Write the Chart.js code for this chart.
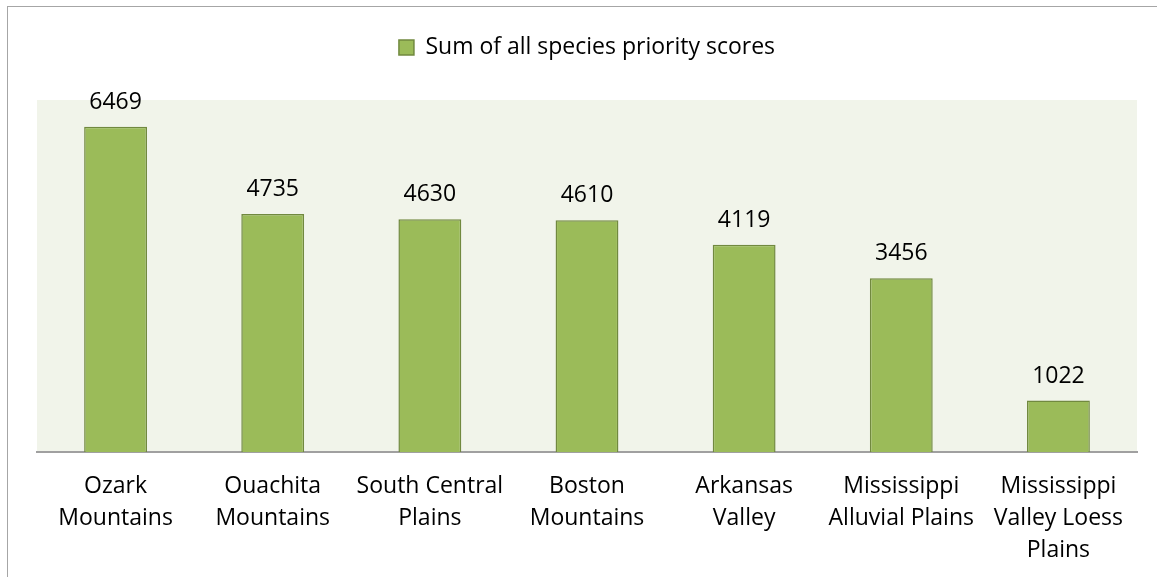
<!DOCTYPE html>
<html>
<head>
<meta charset="utf-8">
<script src="https://cdn.jsdelivr.net/npm/chart.js@4"></script>
<style>
  html, body { margin: 0; padding: 0; background: #fff; }
  .wrap { position: relative; width: 1157px; height: 577px; overflow: hidden; }
  .frame {
    position: absolute; left: 7px; top: 6px; width: 1200px; height: 620px;
    border: 1px solid #a6a6a6; box-sizing: border-box;
  }
  canvas { position: absolute; left: 0; top: 0; }
</style>
</head>
<body>
<div class="wrap">
  <div class="frame"></div>
  <canvas id="chart" width="1157" height="577"></canvas>
</div>
<script>
const regions = [
  ["Ozark", "Mountains"],
  ["Ouachita", "Mountains"],
  ["South Central", "Plains"],
  ["Boston", "Mountains"],
  ["Arkansas", "Valley"],
  ["Mississippi", "Alluvial Plains"],
  ["Mississippi", "Valley Loess", "Plains"]
];
const scores = [6469, 4735, 4630, 4610, 4119, 3456, 1022];
const seriesName = "Sum of all species priority scores";

const fontFamily = "'Open Sans', 'Noto Sans', sans-serif";

// plot area background + value labels, extra gap under legend
const extras = {
  id: "extras",
  beforeInit(chart) {
    const fit = chart.legend.fit;
    chart.legend.fit = function () {
      fit.call(this);
      this.height += 31;
    };
  },
  beforeDraw(chart) {
    const a = chart.chartArea, c = chart.ctx;
    c.save();
    c.fillStyle = "#f1f4ea";
    c.fillRect(a.left, a.top, a.right - a.left, a.bottom - a.top);
    c.restore();
  },
  afterDatasetsDraw(chart) {
    const c = chart.ctx;
    c.save();
    c.font = "23px " + fontFamily;
    c.fillStyle = "#000";
    c.textAlign = "center";
    c.textBaseline = "alphabetic";
    chart.getDatasetMeta(0).data.forEach((bar, i) => {
      c.fillText(scores[i], bar.x, bar.y - 18);
    });
    c.restore();
  }
};

new Chart(document.getElementById("chart"), {
  type: "bar",
  data: {
    labels: regions,
    datasets: [{
      label: seriesName,
      data: scores,
      backgroundColor: "#9bbb59",
      borderColor: "#71893f",
      borderWidth: 1.5,
      categoryPercentage: 1,
      barPercentage: 0.4
    }]
  },
  options: {
    responsive: false,
    animation: false,
    layout: { padding: { left: 37, right: 20, top: 6, bottom: 0 } },
    plugins: {
      legend: {
        position: "top",
        labels: {
          boxWidth: 15,
          boxHeight: 15,
          padding: 30,
          color: "#000",
          font: { size: 23, family: fontFamily }
        }
      },
      tooltip: { enabled: false }
    },
    scales: {
      x: {
        grid: { display: false, drawTicks: false },
        border: { color: "#a0a0a0", width: 2 },
        afterFit(scale) { scale.height = 125; },
        ticks: {
          color: "#000",
          padding: 18,
          maxRotation: 0,
          autoSkip: false,
          font: { size: 23, family: fontFamily, lineHeight: "32px" }
        }
      },
      y: {
        display: false,
        min: 0,
        max: 7000
      }
    }
  },
  plugins: [extras]
});
</script>
</body>
</html>
